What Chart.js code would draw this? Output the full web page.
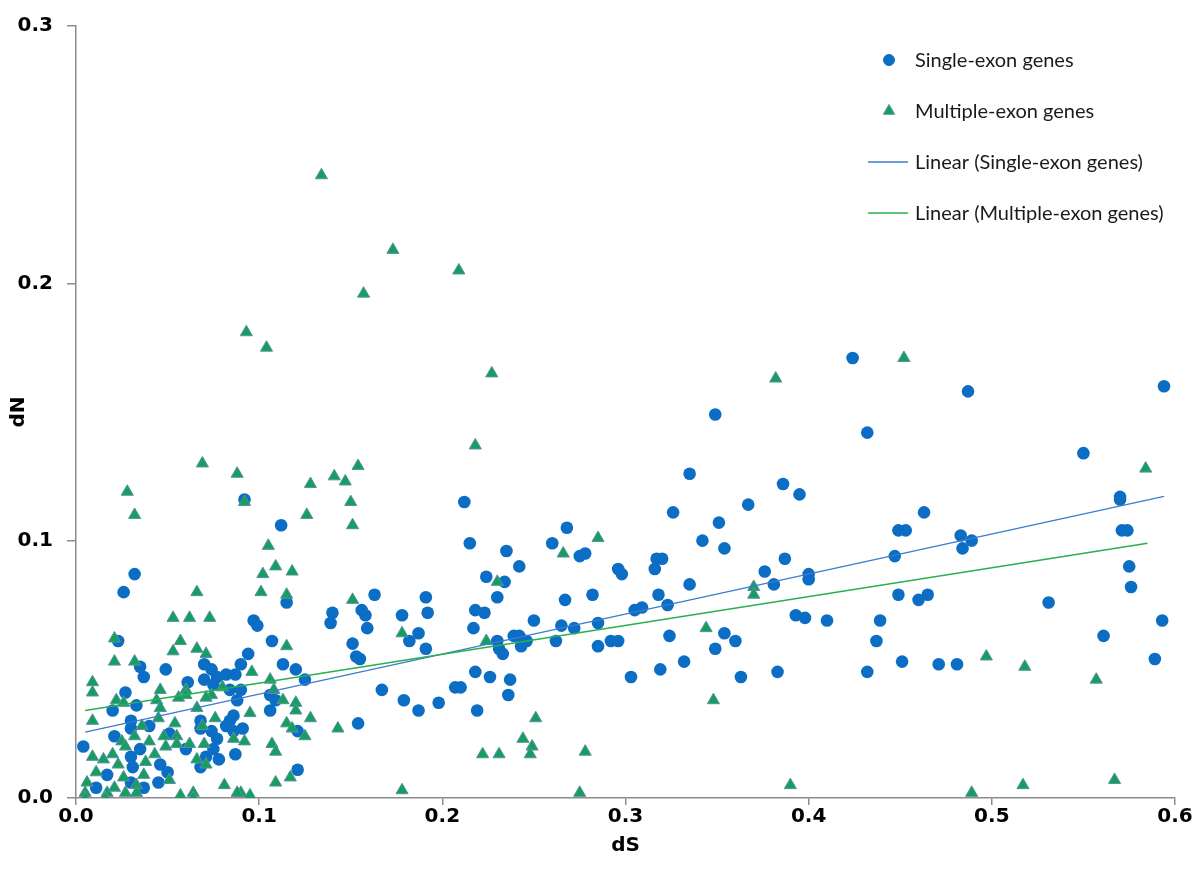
<!DOCTYPE html>
<html>
<head>
<meta charset="utf-8">
<script src="https://cdn.jsdelivr.net/npm/chart.js@4.4.1/dist/chart.umd.min.js"></script>
<style>
  html, body { margin: 0; padding: 0; background: #fff; }
  #wrap { width: 1200px; height: 888px; }
</style>
</head>
<body>
<div id="wrap"><canvas id="scatterChart" width="1200" height="888"></canvas></div>
<script>
// Single-exon genes (dS, dN)
const singleDS = [
  0.349, 0.424, 0.432, 0.487, 0.594, 0.550,
  0.092, 0.032, 0.026, 0.097,
  0.112, 0.115, 0.163, 0.156, 0.158, 0.140, 0.139, 0.099, 0.178, 0.191, 0.192, 0.159,
  0.212, 0.215, 0.235, 0.242, 0.224, 0.234, 0.230, 0.218, 0.223, 0.217, 0.250, 0.260,
  0.182, 0.187, 0.191,
  0.107, 0.151, 0.153, 0.155, 0.094, 0.113, 0.120, 0.090, 0.125, 0.090, 0.106, 0.109,
  0.106, 0.121, 0.154, 0.091, 0.121,
  0.167, 0.179, 0.187, 0.198, 0.207, 0.210, 0.218, 0.226, 0.237, 0.236, 0.219,
  0.230, 0.231, 0.233, 0.239, 0.242, 0.243, 0.246, 0.262, 0.265,
  0.335, 0.386, 0.395, 0.367, 0.326, 0.268,
  0.351, 0.342, 0.354, 0.275, 0.278, 0.317, 0.320, 0.387, 0.296, 0.298, 0.316, 0.335,
  0.376, 0.381, 0.400, 0.400, 0.267, 0.282, 0.318, 0.323, 0.305, 0.309, 0.272,
  0.285, 0.393, 0.398, 0.410, 0.354,
  0.285, 0.292, 0.296, 0.324, 0.349, 0.360, 0.303, 0.319, 0.332, 0.363, 0.383,
  0.570, 0.570, 0.463, 0.449, 0.453, 0.483, 0.489, 0.484, 0.571, 0.574, 0.447, 0.575,
  0.576, 0.449, 0.460, 0.465, 0.531, 0.439, 0.593, 0.561,
  0.437, 0.432, 0.451, 0.471, 0.481, 0.589,
  0.023, 0.035, 0.049, 0.070, 0.074, 0.077, 0.082, 0.087, 0.037, 0.070, 0.027, 0.061,
  0.075, 0.084, 0.088, 0.020, 0.033,
  0.030, 0.040, 0.068, 0.086, 0.084, 0.068, 0.004, 0.021, 0.030, 0.051, 0.035, 0.060,
  0.074, 0.077, 0.082, 0.086, 0.087, 0.075, 0.071, 0.068, 0.078, 0.046, 0.050, 0.030,
  0.031, 0.017, 0.030, 0.045, 0.011, 0.037
];
const singleDN = [
  0.149, 0.171, 0.142, 0.158, 0.160, 0.134,
  0.116, 0.087, 0.080, 0.069,
  0.106, 0.076, 0.079, 0.073, 0.071, 0.072, 0.068, 0.067, 0.071, 0.078, 0.072, 0.066,
  0.115, 0.099, 0.096, 0.090, 0.086, 0.084, 0.078, 0.073, 0.072, 0.066, 0.069, 0.099,
  0.061, 0.064, 0.058,
  0.061, 0.060, 0.055, 0.054, 0.056, 0.052, 0.050, 0.052, 0.046, 0.042, 0.040, 0.038,
  0.034, 0.026, 0.029, 0.027, 0.011,
  0.042, 0.038, 0.034, 0.037, 0.043, 0.043, 0.049, 0.047, 0.046, 0.040, 0.034,
  0.061, 0.058, 0.056, 0.063, 0.063, 0.059, 0.061, 0.061, 0.067,
  0.126, 0.122, 0.118, 0.114, 0.111, 0.105,
  0.107, 0.100, 0.097, 0.094, 0.095, 0.093, 0.093, 0.093, 0.089, 0.087, 0.089, 0.083,
  0.088, 0.083, 0.087, 0.085, 0.077, 0.079, 0.079, 0.075, 0.073, 0.074, 0.066,
  0.068, 0.071, 0.070, 0.069, 0.064,
  0.059, 0.061, 0.061, 0.063, 0.058, 0.061, 0.047, 0.050, 0.053, 0.047, 0.049,
  0.117, 0.116, 0.111, 0.104, 0.104, 0.102, 0.100, 0.097, 0.104, 0.104, 0.094, 0.090,
  0.082, 0.079, 0.077, 0.079, 0.076, 0.069, 0.069, 0.063,
  0.061, 0.049, 0.053, 0.052, 0.052, 0.054,
  0.061, 0.051, 0.050, 0.052, 0.050, 0.047, 0.048, 0.048, 0.047, 0.046, 0.041, 0.045,
  0.044, 0.042, 0.038, 0.034, 0.036,
  0.030, 0.028, 0.030, 0.032, 0.030, 0.027, 0.020, 0.024, 0.027, 0.025, 0.019, 0.019,
  0.026, 0.023, 0.028, 0.026, 0.017, 0.019, 0.016, 0.012, 0.015, 0.013, 0.010, 0.016,
  0.012, 0.009, 0.006, 0.006, 0.004, 0.004
];

// Multiple-exon genes (dS, dN)
const multiDS = [
  0.134, 0.173, 0.209, 0.157, 0.093, 0.104, 0.227, 0.382, 0.452, 0.218,
  0.069, 0.088, 0.092, 0.028, 0.032, 0.066, 0.053, 0.062, 0.073,
  0.128, 0.141, 0.147, 0.154, 0.150, 0.151, 0.126, 0.105, 0.109, 0.102, 0.118, 0.101,
  0.115, 0.151, 0.230,
  0.178, 0.115, 0.096, 0.106, 0.108, 0.113, 0.120, 0.120, 0.095, 0.128, 0.115, 0.118,
  0.125, 0.143, 0.092, 0.107, 0.109, 0.109, 0.117, 0.090, 0.095, 0.178, 0.224, 0.251,
  0.244, 0.249, 0.248, 0.222, 0.231,
  0.285, 0.266, 0.370, 0.370, 0.344, 0.348, 0.278, 0.275, 0.390,
  0.584, 0.497, 0.518, 0.557, 0.489, 0.517, 0.567,
  0.021, 0.057, 0.053, 0.066, 0.071, 0.021, 0.032, 0.009, 0.009, 0.046, 0.060, 0.060,
  0.080, 0.074, 0.071, 0.022, 0.026, 0.044, 0.046, 0.056, 0.066, 0.009, 0.045, 0.036,
  0.054, 0.076, 0.032, 0.048, 0.055, 0.040, 0.025, 0.027, 0.049, 0.055, 0.062, 0.070,
  0.069, 0.086, 0.066, 0.071, 0.043, 0.038, 0.037, 0.020, 0.015, 0.009, 0.023, 0.011,
  0.026, 0.033, 0.051, 0.006, 0.005, 0.017, 0.021, 0.027, 0.033, 0.005, 0.016, 0.057,
  0.064, 0.064, 0.081, 0.088
];
const multiDN = [
  0.242, 0.213, 0.205, 0.196, 0.181, 0.175, 0.165, 0.163, 0.171, 0.137,
  0.130, 0.126, 0.115, 0.119, 0.110, 0.080, 0.070, 0.070, 0.070,
  0.122, 0.125, 0.123, 0.129, 0.115, 0.106, 0.110, 0.098, 0.090, 0.087, 0.088, 0.080,
  0.079, 0.077, 0.084,
  0.064, 0.059, 0.049, 0.046, 0.042, 0.038, 0.037, 0.034, 0.033, 0.031, 0.029, 0.027,
  0.024, 0.027, 0.022, 0.021, 0.018, 0.006, 0.008, 0.002, 0.001, 0.003, 0.061, 0.031,
  0.023, 0.020, 0.017, 0.017, 0.017,
  0.101, 0.095, 0.082, 0.079, 0.066, 0.038, 0.018, 0.002, 0.005,
  0.128, 0.055, 0.051, 0.046, 0.002, 0.005, 0.007,
  0.062, 0.061, 0.057, 0.058, 0.056, 0.053, 0.053, 0.045, 0.041, 0.042, 0.042, 0.040,
  0.043, 0.040, 0.039, 0.038, 0.037, 0.038, 0.035, 0.039, 0.035, 0.030, 0.031, 0.028,
  0.029, 0.031, 0.024, 0.024, 0.024, 0.022, 0.022, 0.020, 0.020, 0.021, 0.021, 0.021,
  0.028, 0.023, 0.015, 0.013, 0.017, 0.014, 0.009, 0.017, 0.015, 0.016, 0.013, 0.010,
  0.008, 0.005, 0.007, 0.006, 0.002, 0.002, 0.004, 0.002, 0.002, 0.000, 0.000, 0.001,
  0.002, 0.000, 0.005, 0.002
];

// trendline end points
const singleTrendDS = [0.005, 0.594];
const singleTrendDN = [0.0256, 0.1172];
const multiTrendDS = [0.005, 0.585];
const multiTrendDN = [0.034, 0.099];

const legendLabels = [
  "Single-exon genes",
  "Multiple-exon genes",
  "Linear (Single-exon genes)",
  "Linear (Multiple-exon genes)",
];

function toPoints(xs, ys) {
  return xs.map((x, i) => ({ x: x, y: ys[i] }));
}

const tickFont = { family: "DejaVu Sans", size: 20, weight: "bold" };

// legend drawn inside the plot area, top right
const insideLegend = {
  id: "insideLegend",
  afterDraw(chart) {
    const ctx = chart.ctx;
    ctx.save();
    ctx.font = "20px Lato";
    ctx.textBaseline = "middle";
    legendLabels.forEach((label, i) => {
      const ds = chart.data.datasets[i];
      const y = 60 + i * 51;
      if (ds.type === "line") {
        ctx.strokeStyle = ds.borderColor;
        ctx.lineWidth = 1.5;
        ctx.beginPath();
        ctx.moveTo(868, y);
        ctx.lineTo(908, y);
        ctx.stroke();
      } else {
        ctx.fillStyle = ds.backgroundColor;
        ctx.strokeStyle = ds.borderColor;
        ctx.lineWidth = 1;
        Chart.helpers.drawPoint(
          ctx,
          { pointStyle: ds.pointStyle, radius: ds.pointStyle === "triangle" ? 6.5 : 5.5, rotation: 0, borderWidth: 1 },
          889,
          y
        );
      }
      ctx.fillStyle = "#1a1a1a";
      ctx.fillText(label, 915, y + 1);
    });
    ctx.restore();
  },
};

const ctx = document.getElementById("scatterChart").getContext("2d");

new Chart(ctx, {
  type: "scatter",
  data: {
    datasets: [
      {
        label: legendLabels[0],
        data: toPoints(singleDS, singleDN),
        pointStyle: "circle",
        pointRadius: 6.3,
        backgroundColor: "#0b6ec4",
        borderColor: "#0b6ec4",
        borderWidth: 0,
        order: 3,
      },
      {
        label: legendLabels[1],
        data: toPoints(multiDS, multiDN),
        pointStyle: "triangle",
        pointRadius: 7,
        backgroundColor: "#14a05c",
        borderColor: "#5a8fa8",
        borderWidth: 1,
        order: 2,
      },
      {
        type: "line",
        label: legendLabels[2],
        data: toPoints(singleTrendDS, singleTrendDN),
        borderColor: "#3b7ccc",
        borderWidth: 1.3,
        pointRadius: 0,
        fill: false,
        order: 1,
      },
      {
        type: "line",
        label: legendLabels[3],
        data: toPoints(multiTrendDS, multiTrendDN),
        borderColor: "#27b04f",
        borderWidth: 1.3,
        pointRadius: 0,
        fill: false,
        order: 0,
      },
    ],
  },
  options: {
    responsive: false,
    animation: false,
    devicePixelRatio: 1,
    layout: { padding: { top: 22, right: 25, left: 0, bottom: 0 } },
    plugins: {
      legend: { display: false },
      tooltip: { enabled: false },
    },
    scales: {
      x: {
        type: "linear",
        min: 0,
        max: 0.6,
        afterFit: (scale) => {
          scale.height = 90;
        },
        border: { display: true, color: "#8c8c8c", width: 1.5 },
        grid: { drawOnChartArea: false, drawTicks: true, tickLength: 7, color: "#8c8c8c", lineWidth: 1.5 },
        ticks: {
          stepSize: 0.1,
          padding: 0,
          color: "#000",
          font: tickFont,
          maxRotation: 0,
          callback: (value) => value.toFixed(1),
        },
        title: {
          display: true,
          text: "dS",
          color: "#000",
          font: tickFont,
          padding: { top: 0, bottom: 30 },
        },
      },
      y: {
        type: "linear",
        min: 0,
        max: 0.3,
        afterFit: (scale) => {
          scale.width = 76;
        },
        border: { display: true, color: "#8c8c8c", width: 1.5 },
        grid: { drawOnChartArea: false, drawTicks: true, tickLength: 9, color: "#8c8c8c", lineWidth: 1.5 },
        ticks: {
          stepSize: 0.1,
          padding: 14,
          color: "#000",
          font: tickFont,
          callback: (value) => value.toFixed(1),
        },
        title: {
          display: true,
          text: "dN",
          color: "#000",
          font: tickFont,
          padding: { top: 7, bottom: 0 },
        },
      },
    },
  },
  plugins: [insideLegend],
});
</script>
</body>
</html>
